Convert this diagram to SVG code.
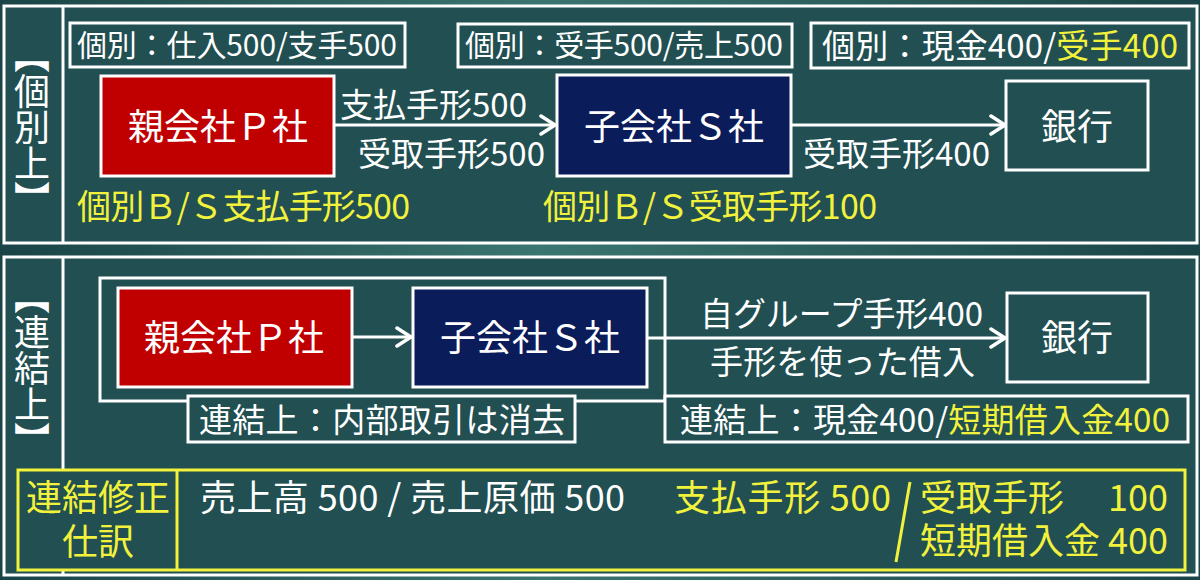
<svg xmlns="http://www.w3.org/2000/svg" width="1200" height="580" viewBox="0 0 1200 580">
<defs>
<linearGradient id="bg" x1="0" y1="0" x2="1" y2="0">
<stop offset="0" stop-color="#1a4447"/>
<stop offset="0.45" stop-color="#3b756f"/>
<stop offset="1" stop-color="#1a4447"/>
</linearGradient>
<marker id="arr" markerUnits="userSpaceOnUse" markerWidth="20" markerHeight="22" refX="17" refY="11" orient="auto" viewBox="0 0 20 22">
<path d="M3,2 L17,11 L3,20" fill="none" stroke="#fff" stroke-width="3.5" stroke-linecap="round" stroke-linejoin="round"/>
</marker>
<style>
.panel{fill:#214f52;stroke:#fff;stroke-width:3}
.div{stroke:#fff;stroke-width:3}
.box{fill:none;stroke:#fff;stroke-width:3}
.lbl{fill:#214f52;stroke:#fff;stroke-width:3}
.red{fill:#c00000;stroke:#fff;stroke-width:3}
.navy{fill:#0b1c5a;stroke:#fff;stroke-width:3}
.ybox{fill:none;stroke:#f2f23c;stroke-width:3}
text{font-family:"Noto Sans CJK JP","Noto Sans CJK SC",sans-serif;fill:#fff}
.y{fill:#f2f23c}
.vert{writing-mode:vertical-rl;font-size:36px}
.conn{stroke:#fff;stroke-width:3;fill:none}
.f30{font-size:30px}
.f33{font-size:33px}
.f34{font-size:34px}
.f36{font-size:36px}
</style>
</defs>
<rect x="0" y="0" width="1200" height="580" fill="url(#bg)"/>

<g id="panel-individual">
<rect class="panel" x="4" y="6" width="1193" height="237"/>
<line class="div" x1="63" y1="6" x2="63" y2="243"/>
<text class="vert" x="32" y="37">【個別上】</text>
</g>

<g id="panel-consolidated">
<rect class="panel" x="4" y="257" width="1193" height="318"/>
<line class="div" x1="63" y1="257" x2="63" y2="575"/>
<text class="vert" x="32" y="278">【連結上】</text>
</g>

<g id="group-boundary">
<rect class="box" x="100" y="278" width="565" height="123"/>
</g>

<g id="connectors">
<line class="conn" x1="334" y1="125" x2="555" y2="125" marker-end="url(#arr)"/>
<line class="conn" x1="791" y1="125" x2="1005" y2="125" marker-end="url(#arr)"/>
<line class="conn" x1="352" y1="337" x2="411" y2="337" marker-end="url(#arr)"/>
<line class="conn" x1="647" y1="338" x2="1005" y2="338" marker-end="url(#arr)"/>
</g>

<g id="labels-top">
<g id="lbl-p-indiv">
<rect class="box" x="70" y="23" width="335" height="44"/>
<text class="f30" x="77" y="56.4" textLength="320" lengthAdjust="spacing">個別：仕入500/支手500</text>
</g>
<g id="lbl-s-indiv">
<rect class="box" x="458" y="24" width="334" height="43"/>
<text class="f30" x="465" y="56.4" textLength="318" lengthAdjust="spacing">個別：受手500/売上500</text>
</g>
<g id="lbl-bank-indiv">
<rect class="box" x="811" y="23" width="378" height="45"/>
<text class="f33" x="822" y="57.5" textLength="356" lengthAdjust="spacing">個別：現金400/<tspan class="y">受手400</tspan></text>
</g>
<text class="f33" x="340" y="116.5" textLength="187" lengthAdjust="spacing">支払手形500</text>
<text class="f33" x="358" y="165.5" textLength="187" lengthAdjust="spacing">受取手形500</text>
<text class="f33" x="803" y="165.5" textLength="187" lengthAdjust="spacing">受取手形400</text>
<text class="f34 y" x="77" y="219" textLength="333" lengthAdjust="spacing">個別Ｂ/Ｓ支払手形500</text>
<text class="f34 y" x="543" y="219" textLength="334" lengthAdjust="spacing">個別Ｂ/Ｓ受取手形100</text>
</g>

<g id="node-p-top">
<rect class="red" x="101" y="76" width="233" height="100"/>
<text class="f36" x="218" y="139.7" text-anchor="middle">親会社Ｐ社</text>
</g>
<g id="node-s-top">
<rect class="navy" x="557" y="75" width="234" height="101"/>
<text class="f36" x="674" y="139.7" text-anchor="middle">子会社Ｓ社</text>
</g>
<g id="node-bank-top">
<rect class="box" x="1006" y="81" width="142" height="89"/>
<text class="f36" x="1077" y="139.7" text-anchor="middle">銀行</text>
</g>

<g id="node-p-bottom">
<rect class="red" x="118" y="288" width="234" height="99"/>
<text class="f36" x="234" y="350.7" text-anchor="middle">親会社Ｐ社</text>
</g>
<g id="node-s-bottom">
<rect class="navy" x="413" y="288" width="234" height="99"/>
<text class="f36" x="530" y="350.7" text-anchor="middle">子会社Ｓ社</text>
</g>
<g id="node-bank-bottom">
<rect class="box" x="1007" y="293" width="141" height="89"/>
<text class="f36" x="1077" y="350.7" text-anchor="middle">銀行</text>
</g>

<g id="labels-bottom">
<text class="f33" x="700" y="325.5" textLength="283" lengthAdjust="spacing">自グループ手形400</text>
<text class="f33" x="710" y="373.5" textLength="265" lengthAdjust="spacing">手形を使った借入</text>
<g id="lbl-elim">
<rect class="lbl" x="188" y="396" width="387" height="46"/>
<text class="f33" x="199" y="431.5" textLength="366" lengthAdjust="spacing">連結上：内部取引は消去</text>
</g>
<g id="lbl-cons-bank">
<rect class="lbl" x="665" y="396" width="523" height="46"/>
<text class="f33" x="680" y="431.5" textLength="490" lengthAdjust="spacing">連結上：現金400/<tspan class="y">短期借入金400</tspan></text>
</g>
</g>

<g id="journal">
<rect class="lbl" x="18" y="470" width="1167" height="100" style="stroke:#f2f23c"/>
<line x1="177" y1="470" x2="177" y2="570" stroke="#f2f23c" stroke-width="3"/>
<text class="f36 y" x="98" y="510.7" text-anchor="middle">連結修正</text>
<text class="f36 y" x="98" y="554.7" text-anchor="middle">仕訳</text>
<text class="f36" x="200" y="510.7" textLength="425" lengthAdjust="spacing">売上高 500 / 売上原価 500</text>
<text class="f36 y" x="674" y="510.7" textLength="217" lengthAdjust="spacing">支払手形 500</text>
<line x1="910" y1="482" x2="896" y2="562" stroke="#f2f23c" stroke-width="3"/>
<text class="f36 y" x="920" y="510.7">受取手形</text>
<text class="f36 y" x="1168" y="510.7" text-anchor="end">100</text>
<text class="f36 y" x="920" y="553.7">短期借入金</text>
<text class="f36 y" x="1168" y="553.7" text-anchor="end">400</text>
</g>
</svg>
